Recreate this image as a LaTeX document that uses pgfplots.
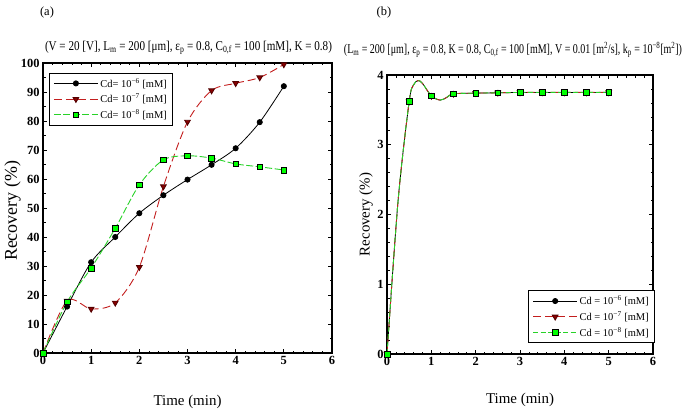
\documentclass[border=0pt]{standalone}
\usepackage{fontspec}
\setmainfont{Liberation Serif}
\usepackage{graphicx}
\usepackage{pgfplots}
\pgfplotsset{compat=1.18}
\definecolor{rline}{RGB}{195,30,30}
\definecolor{rfill}{RGB}{140,0,0}
\definecolor{gline}{RGB}{40,210,40}
\definecolor{gfill}{RGB}{0,255,0}
\pgfplotsset{
  myaxis/.style={
    scale only axis, xmin=0, xmax=6, xtick={0,1,...,6}, minor x tick num=4,
    ymin=0,
    tick align=inside, axis line style={line width=1.1bp},
    major tick length=4bp, minor tick length=2.5bp,
    every tick/.append style={black, line width=0.7bp},
    /pgf/number format/assume math mode=true,
    ticklabel style={font=\fontsize{12.5}{12.5}\selectfont\bfseries},
    xlabel={Time (min)}, xlabel style={font=\fontsize{15}{15}\selectfont, at={(axis description cs:0.5,-0.168)}, anchor=center},
    ylabel={Recovery (\%)},
    legend style={draw=black, line width=0.8bp, fill=white, font=\fontsize{10.5}{11}\selectfont,
      row sep=1.5bp, inner xsep=4bp, inner ysep=3bp},
    legend cell align=left,
    legend image code/.code={\draw[##1, mark=none] (0bp,0bp) -- (44bp,0bp);
      \path[##1] plot coordinates {(22bp,0bp)};},
  },
  sb/.style={black, solid, line width=0.8bp, mark=*, mark size=2.6bp, mark options={solid, fill=black}},
  sr/.style={rline, dash pattern=on 8bp off 4bp, line width=0.9bp, mark=triangle*, mark size=3.2bp, mark options={solid, rotate=180, fill=rfill, draw=rfill!60!black}},
  sg/.style={gline, dash pattern=on 7bp off 2.5bp, line width=0.9bp, mark=square*, mark size=2.8bp, mark options={solid, fill=gfill, draw=black, line width=0.6bp}},
}
\begin{document}
\begin{tikzpicture}[x=1bp,y=1bp]
\useasboundingbox (0,0) rectangle (685,415);
% ---------------- panel (a)
\begin{axis}[myaxis, at={(43bp,62bp)}, anchor=south west, width=289bp, height=290bp,
  ymax=100, ytick={0,10,...,100}, minor y tick num=1,
  ylabel style={font=\fontsize{18}{18}\selectfont, at={(axis description cs:-0.105,0.49)}, anchor=center},
  legend style={at={(0.021,0.966)}, anchor=north west}]
\addlegendimage{sb}\addlegendentry{Cd= 10\textsuperscript{−6} [mM]}
\addlegendimage{sr}\addlegendentry{Cd= 10\textsuperscript{−7} [mM]}
\addlegendimage{sg}\addlegendentry{Cd= 10\textsuperscript{−8} [mM]}
\addplot[sb, smooth, forget plot] coordinates {(0,0) (0.5,16) (1,31.3) (1.5,40) (2,48.2) (2.5,54.4) (3,59.8) (3.5,64.9) (4,70.6) (4.5,79.6) (5,92)};
\addplot[sr, smooth, forget plot] coordinates {(0,0) (0.5,18) (1,15.2) (1.5,17.3) (2,29.6) (2.5,57.4) (3,79.7) (3.5,90.5) (4,93) (4.5,95) (5,99.5)};
\addplot[sg, smooth, forget plot] coordinates {(0,0) (0.5,17.6) (1,29.3) (1.5,43) (2,58) (2.5,66.6) (3,68) (3.5,67.2) (4,65.2) (4.5,64.2) (5,63.1)};
\end{axis}
% ---------------- panel (b)
\begin{axis}[myaxis, at={(387bp,61bp)}, anchor=south west, width=266bp, height=279bp,
  ymax=4, ytick={0,1,...,4}, minor y tick num=4,
  ylabel style={font=\fontsize{15}{15}\selectfont, at={(axis description cs:-0.079,0.5)}, anchor=center},
  xlabel style={at={(axis description cs:0.5,-0.165)}},
  legend style={at={(1.008,0.039)}, anchor=south east}]
\addlegendimage{sb}\addlegendentry{Cd = 10\textsuperscript{−6} [mM]}
\addlegendimage{sr}\addlegendentry{Cd = 10\textsuperscript{−7} [mM]}
\addlegendimage{sg, dash pattern=on 5bp off 2.5bp}\addlegendentry{Cd = 10\textsuperscript{−8} [mM]}
% black
\addplot[black, solid, line width=0.8bp, smooth, forget plot] coordinates {(0,0) (0.25,2.2) (0.5,3.62) (0.6,3.86) (0.7,3.92) (0.8,3.88) (1,3.70) (1.2,3.64) (1.35,3.68) (1.5,3.73) (2,3.74) (2.5,3.745) (3,3.75) (3.5,3.75) (4,3.75) (4.5,3.75) (5,3.75)};
\addplot[sb, only marks, forget plot] coordinates {(0,0) (0.5,3.62) (1,3.70) (1.5,3.73) (2,3.74) (2.5,3.745) (3,3.75) (3.5,3.75) (4,3.75) (4.5,3.75) (5,3.75)};
% red
\addplot[rline, dash pattern=on 8bp off 4bp, line width=0.9bp, smooth, forget plot] coordinates {(0,0) (0.25,2.2) (0.5,3.62) (0.6,3.86) (0.7,3.92) (0.8,3.88) (1,3.70) (1.2,3.64) (1.35,3.68) (1.5,3.73) (2,3.74) (2.5,3.745) (3,3.75) (3.5,3.75) (4,3.75) (4.5,3.75) (5,3.75)};
\addplot[sr, only marks, forget plot] coordinates {(0,0) (0.5,3.62) (1,3.70) (1.5,3.73) (2,3.74) (2.5,3.745) (3,3.75) (3.5,3.75) (4,3.75) (4.5,3.75) (5,3.75)};
% green
\addplot[gline, dash pattern=on 5bp off 2.5bp, line width=0.9bp, smooth, forget plot] coordinates {(0,0) (0.25,2.2) (0.5,3.62) (0.6,3.86) (0.7,3.92) (0.8,3.88) (1,3.70) (1.2,3.64) (1.35,3.68) (1.5,3.73) (2,3.74) (2.5,3.745) (3,3.75) (3.5,3.75) (4,3.75) (4.5,3.75) (5,3.75)};
\addplot[sg, only marks, forget plot] coordinates {(0,0) (0.5,3.62) (1,3.70) (1.5,3.73) (2,3.74) (2.5,3.745) (3,3.75) (3.5,3.75) (4,3.75) (4.5,3.75) (5,3.75)};
\end{axis}
% ---------------- texts
\node[font=\fontsize{12.5}{12.5}\selectfont] at (47bp,402bp) {(a)};
\node[font=\fontsize{12.5}{12.5}\selectfont] at (384bp,402bp) {(b)};
\node[font=\fontsize{13.5}{13.5}\selectfont, inner sep=0pt] at (188.5bp,367bp) {\resizebox{287bp}{\height}{(V = 20 [V], L\textsubscript{m} = 200 [μm], ε\textsubscript{p} = 0.8, C\textsubscript{0,f} = 100 [mM], K = 0.8)}};
\node[font=\fontsize{13.5}{13.5}\selectfont, inner sep=0pt] at (513bp,365bp) {\resizebox{338bp}{\height}{(L\textsubscript{m} = 200 [μm], ε\textsubscript{p} = 0.8, K = 0.8, C\textsubscript{0,f} = 100 [mM], V = 0.01 [m\textsuperscript{2}/s], k\textsubscript{p} = 10\textsuperscript{−8}[m\textsuperscript{2}])}};
\end{tikzpicture}
\end{document}
